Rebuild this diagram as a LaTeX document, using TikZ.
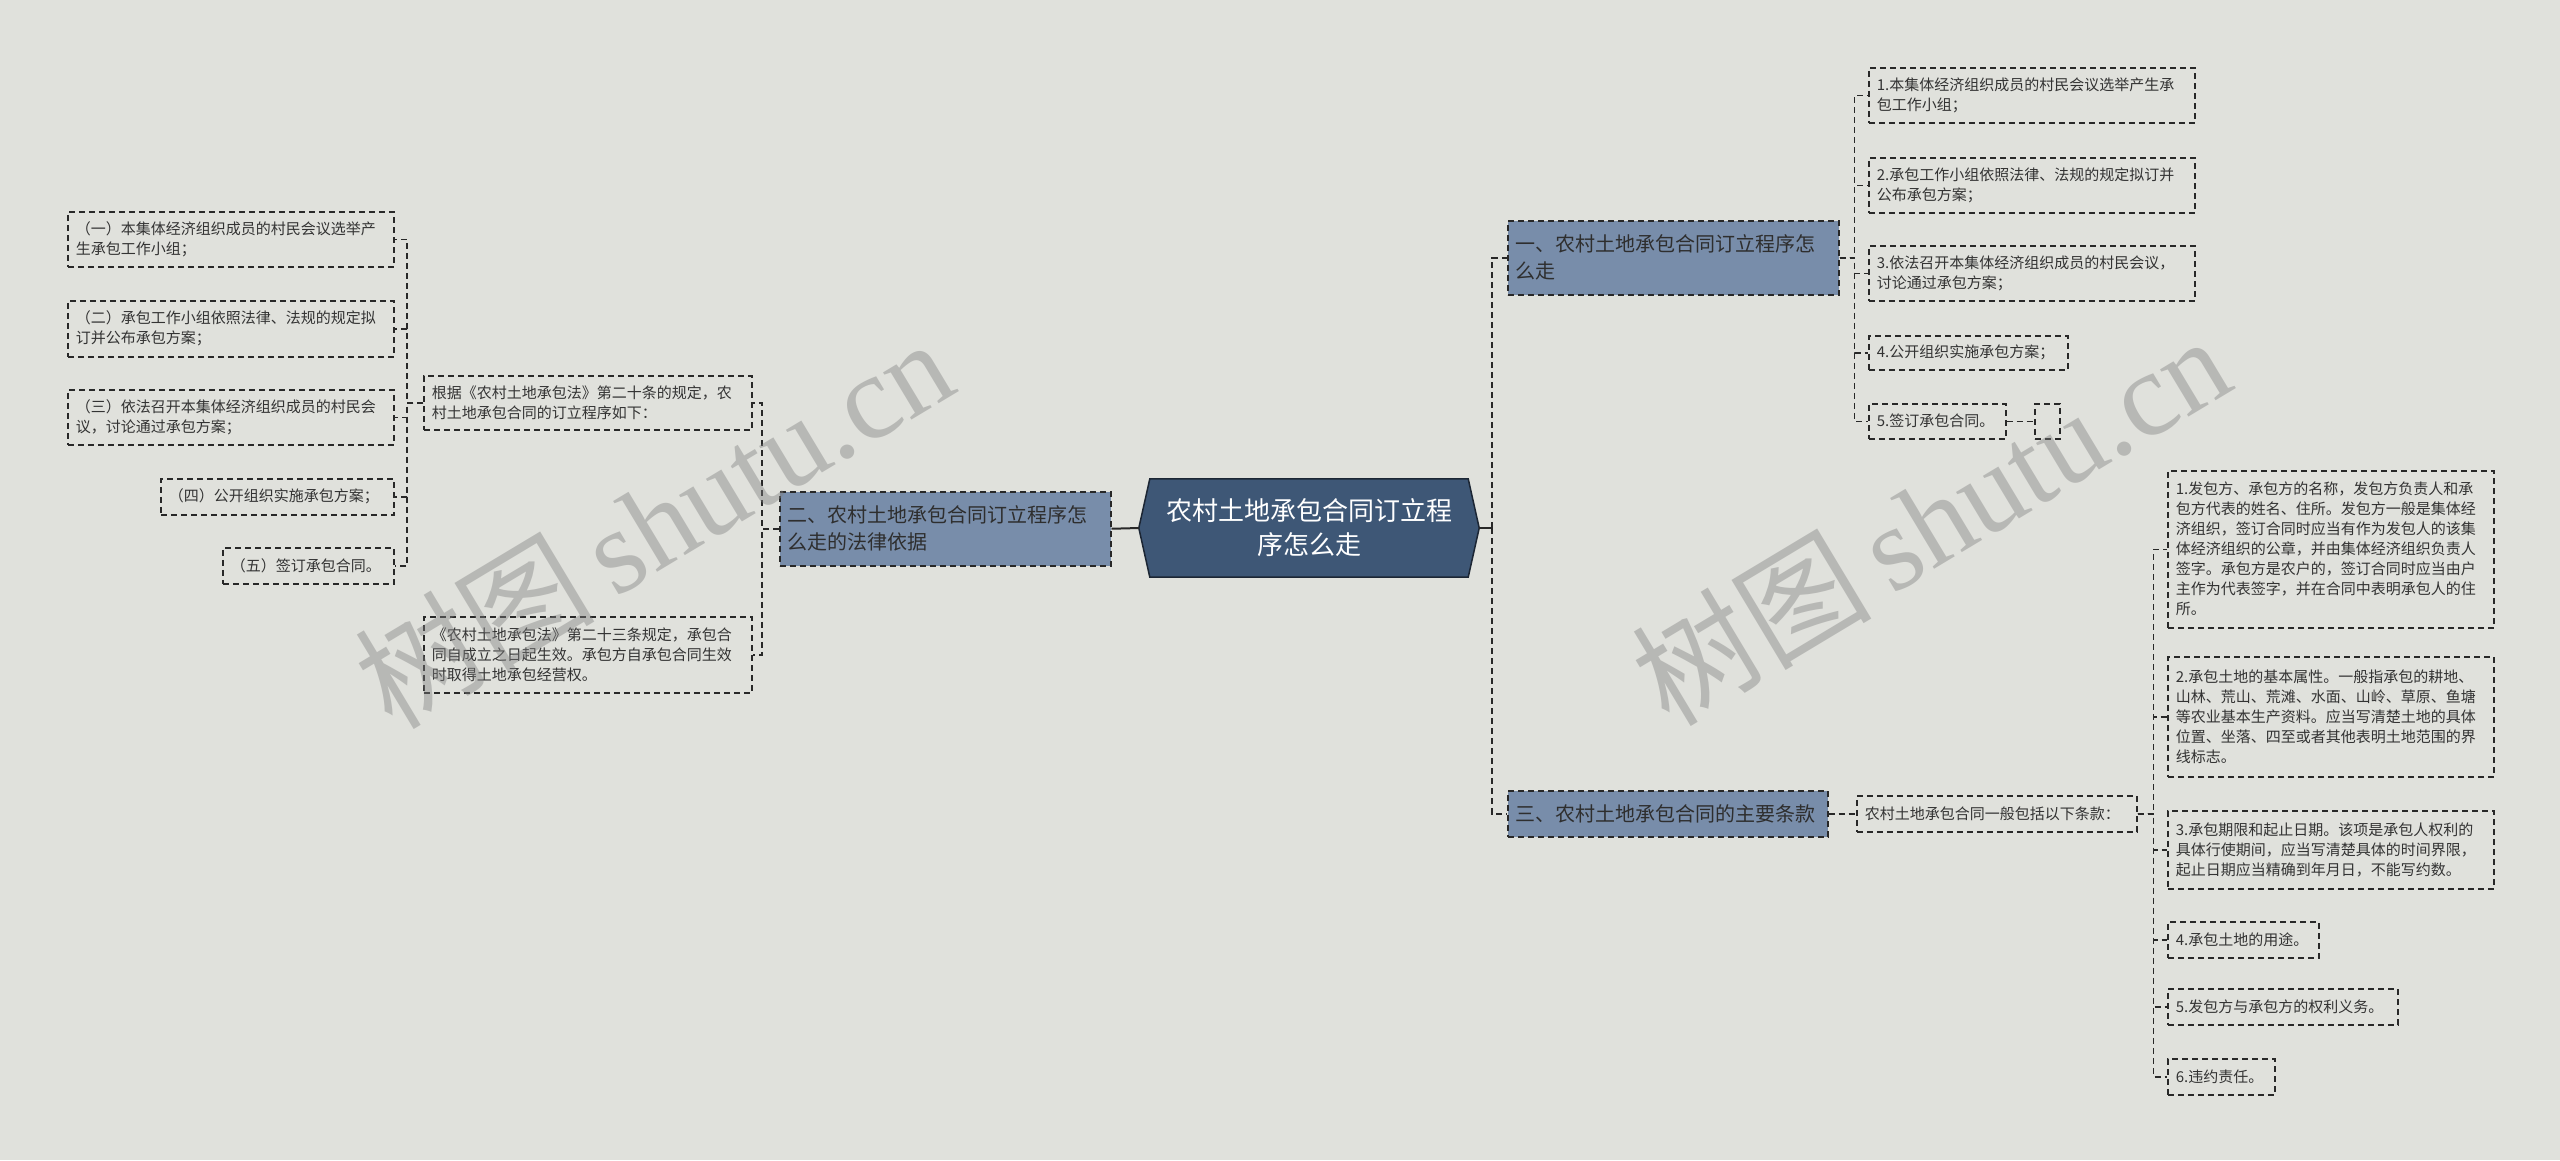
\documentclass[tikz,border=0pt]{standalone}
\usepackage{fontspec}
\setmainfont{Noto Sans CJK SC}
\newfontfamily\wmlatin{Liberation Serif}
\usetikzlibrary{calc}
\definecolor{bgc}{RGB}{224,225,220}
\definecolor{slate}{RGB}{120,141,170}
\definecolor{rootc}{RGB}{62,87,118}
\definecolor{rootb}{RGB}{28,38,52}
\definecolor{txtc}{RGB}{51,51,51}
\definecolor{linec}{RGB}{40,40,40}
\tikzset{
  dsh/.style={dash pattern=on 6pt off 4pt},
  leafbox/.style={draw=linec, line width=1.5pt, dsh, text=txtc, align=left,
    inner xsep=8pt, inner ysep=0pt, anchor=north west,
    font=\fontsize{15}{20}\selectfont},
  topicbox/.style={leafbox, fill=slate, font=\fontsize{20}{27}\selectfont, text=txtc!90!black},
  conn/.style={draw=linec, line width=1.5pt, dsh},
  trunk/.style={draw=linec, line width=2pt, dsh},
  wm/.style={text=black!50, opacity=0.42, rotate=31, inner sep=0pt}
}
\newcommand{\bx}[7]{\node[#1, minimum width=#4pt, minimum height=#5pt, text width=#6pt] (#2) at (#3) {#7};}
\begin{document}
\begin{tikzpicture}[x=1pt,y=-1pt]
\useasboundingbox[fill=bgc] (0,0) rectangle (2560,1160);

% root
\node[minimum width=318pt, minimum height=98pt, inner sep=0pt] (root) at (1309,528) {};
\draw[fill=rootc, draw=rootb, line width=1.5pt]
  (root.north west) -- (root.north east) -- ([xshift=11pt]root.east) -- (root.south east)
  -- (root.south west) -- ([xshift=-11pt]root.west) -- cycle;
\node[text=white, align=center, font=\fontsize{26}{34}\selectfont] (roottxt) at (root.center) {农村土地承包合同订立程\\序怎么走};
\coordinate (rootL) at ([xshift=-11pt]root.west);
\coordinate (rootR) at ([xshift=11pt]root.east);

% left branch
\bx{topicbox}{L2}{779,491}{331}{74}{315}{二、农村土地承包合同订立程序怎\\么走的法律依据}
\bx{leafbox}{b1}{423,375}{328}{54}{312}{根据《农村土地承包法》第二十条的规定，农\\村土地承包合同的订立程序如下：}
\bx{leafbox}{b2}{423,616}{328}{76}{312}{《农村土地承包法》第二十三条规定，承包合\\同自成立之日起生效。承包方自承包合同生效\\时取得土地承包经营权。}
\bx{leafbox}{a1}{67,211}{326}{55}{310}{（一）本集体经济组织成员的村民会议选举产\\生承包工作小组；}
\bx{leafbox}{a2}{67,300}{326}{56}{310}{（二）承包工作小组依照法律、法规的规定拟\\订并公布承包方案；}
\bx{leafbox}{a3}{67,389}{326}{55}{310}{（三）依法召开本集体经济组织成员的村民会\\议，讨论通过承包方案；}
\bx{leafbox}{a4}{160,478}{233}{36}{217}{（四）公开组织实施承包方案；}
\bx{leafbox}{a5}{222,547}{171}{36}{155}{（五）签订承包合同。}

% right branch 1
\bx{topicbox}{R1}{1507,220}{331}{74}{315}{一、农村土地承包合同订立程序怎\\么走}
\bx{leafbox}{c1}{1868,67}{326}{55}{310}{1.本集体经济组织成员的村民会议选举产生承\\包工作小组；}
\bx{leafbox}{c2}{1868,157}{326}{55}{310}{2.承包工作小组依照法律、法规的规定拟订并\\公布承包方案；}
\bx{leafbox}{c3}{1868,245}{326}{55}{310}{3.依法召开本集体经济组织成员的村民会议，\\讨论通过承包方案；}
\bx{leafbox}{c4}{1868,335}{199}{34}{183}{4.公开组织实施承包方案；}
\bx{leafbox}{c5}{1868,403}{137}{35}{121}{5.签订承包合同。}
\node[draw=linec, line width=1.5pt, dsh, anchor=north west, minimum width=25pt, minimum height=35pt, inner sep=0pt] (c5x) at (2034,403) {};

% right branch 3
\bx{topicbox}{R3}{1507,790}{320}{46}{304}{三、农村土地承包合同的主要条款}
\bx{leafbox}{d0}{1856,795}{280}{36}{264}{农村土地承包合同一般包括以下条款：}
\bx{leafbox}{e1}{2167,470}{326}{157}{310}{1.发包方、承包方的名称，发包方负责人和承\\包方代表的姓名、住所。发包方一般是集体经\\济组织，签订合同时应当有作为发包人的该集\\体经济组织的公章，并由集体经济组织负责人\\签字。承包方是农户的，签订合同时应当由户\\主作为代表签字，并在合同中表明承包人的住\\所。}
\bx{leafbox}{e2}{2167,656}{326}{120}{310}{2.承包土地的基本属性。一般指承包的耕地、\\山林、荒山、荒滩、水面、山岭、草原、鱼塘\\等农业基本生产资料。应当写清楚土地的具体\\位置、坐落、四至或者其他表明土地范围的界\\线标志。}
\bx{leafbox}{e3}{2167,810}{326}{78}{310}{3.承包期限和起止日期。该项是承包人权利的\\具体行使期间，应当写清楚具体的时间界限，\\起止日期应当精确到年月日，不能写约数。}
\bx{leafbox}{e4}{2167,921}{151}{36}{135}{4.承包土地的用途。}
\bx{leafbox}{e5}{2167,988}{230}{36}{214}{5.发包方与承包方的权利义务。}
\bx{leafbox}{e6}{2167,1058}{107}{36}{91}{6.违约责任。}

% connectors
\draw[draw=linec, line width=2pt] (rootL) -- (L2.east);
\draw[draw=linec, line width=2pt] (rootR) -- ++(13,0);
\foreach \c in {R1,R3} \draw[trunk] ([xshift=13pt]rootR) |- (\c.west);
\foreach \c in {b1,b2} \draw[conn] (L2.west) -- ++(-17,0) |- (\c.east);
\foreach \c in {a1,a2,a3,a4,a5} \draw[conn] (b1.west) -- ++(-16,0) |- (\c.west -| a5.east) -- (\c.east);
\foreach \c in {c1,c2,c3,c4,c5} \draw[conn] (R1.east) -- ++(15,0) |- (\c.west);
\draw[conn] (c5.east) -- (c5x.west);
\draw[conn] (R3.east) -- (d0.west);
\foreach \c in {e1,e2,e3,e4,e5,e6} \draw[conn] (d0.east) -- ++(16,0) |- (\c.west);

% watermarks
\node[wm] (wm1) at (653,522) {\fontsize{120}{120}\selectfont 树图\,{\wmlatin shutu.cn}};
\node[wm] (wm2) at (1930,519) {\fontsize{120}{120}\selectfont 树图\,{\wmlatin shutu.cn}};
\end{tikzpicture}
\end{document}
